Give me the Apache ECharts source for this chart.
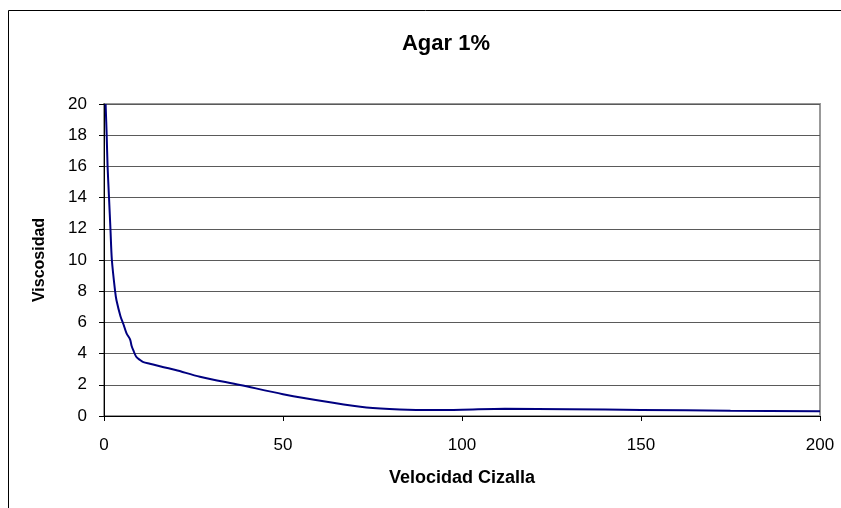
<!DOCTYPE html>
<html>
<head>
<meta charset="utf-8">
<script src="https://cdn.jsdelivr.net/npm/echarts@6/dist/echarts.min.js"></script>
<style>
  html, body { margin: 0; padding: 0; background: #fff; }
  #chart { width: 841px; height: 508px; }
</style>
</head>
<body>
<div id="chart"></div>
<script>
// velocidad de cizalla (eje x) y viscosidad (eje y)
const shearRate = [0.45, 0.75, 1.0, 1.4, 1.8, 2.2, 3.1, 3.5, 4.6, 5.4, 6.3, 7.3, 7.7, 8.2, 9.0, 10, 11, 12.8, 20, 26.8, 38, 50, 64, 73.3, 82.6, 92, 100, 112, 130, 150, 175, 200];
const viscosity = [20, 18, 16, 14, 12, 10, 8, 7.4, 6.4, 5.9, 5.3, 4.9, 4.5, 4.2, 3.8, 3.6, 3.45, 3.35, 2.95, 2.52, 1.99, 1.4, 0.85, 0.55, 0.42, 0.38, 0.4, 0.46, 0.43, 0.39, 0.34, 0.3];
const xTicks = [0, 50, 100, 150, 200];
const yTicks = [0, 2, 4, 6, 8, 10, 12, 14, 16, 18, 20];

const fontFamily = '"Liberation Sans", Arial, sans-serif';
const gridColor = '#5a5a5a';

const chart = echarts.init(document.getElementById('chart'), null, {renderer: 'canvas'});

chart.setOption({
    animation: false,
    backgroundColor: '#fff',
    title: {
        text: 'Agar 1%',
        left: 441,
        top: 28,
        textAlign: 'center',
        textStyle: {fontFamily: fontFamily, fontSize: 22, fontWeight: 'bold', color: '#000'}
    },
    graphic: [
        {
            type: 'rect',
            shape: {x: 8.5, y: 10.5, width: 900, height: 600},
            style: {fill: 'none', stroke: '#000', lineWidth: 1},
            silent: true
        }
    ],
    grid: {
        left: 104,
        right: 21,
        top: 104,
        bottom: 92,
        show: true,
        borderColor: '#999',
        borderWidth: 2,
        backgroundColor: 'transparent'
    },
    xAxis: {
        type: 'value',
        min: xTicks[0],
        max: xTicks[xTicks.length - 1],
        interval: 50,
        name: 'Velocidad Cizalla',
        nameLocation: 'middle',
        nameGap: 53,
        nameTextStyle: {fontFamily: fontFamily, fontSize: 18, fontWeight: 'bold', color: '#000'},
        axisLine: {show: true, onZero: false, lineStyle: {color: '#000', width: 1}},
        axisTick: {show: true, length: 5, lineStyle: {color: '#000'}},
        axisLabel: {fontFamily: fontFamily, fontSize: 17, color: '#000', margin: 21},
        splitLine: {show: false}
    },
    yAxis: {
        type: 'value',
        min: yTicks[0],
        max: yTicks[yTicks.length - 1],
        interval: 2,
        name: 'Viscosidad',
        nameLocation: 'middle',
        nameGap: 56,
        nameTextStyle: {fontFamily: fontFamily, fontSize: 16, fontWeight: 'bold', color: '#000'},
        axisLine: {show: true, onZero: false, lineStyle: {color: '#000', width: 1}},
        axisTick: {show: true, length: 5, lineStyle: {color: '#000'}},
        axisLabel: {fontFamily: fontFamily, fontSize: 17, color: '#000', margin: 17},
        splitLine: {show: true, lineStyle: {color: gridColor, width: 1}}
    },
    series: [
        {
            type: 'line',
            data: shearRate.map((x, i) => [x, viscosity[i]]),
            showSymbol: false,
            smooth: 0.3,
            clip: true,
            lineStyle: {color: '#000080', width: 2}
        }
    ]
});
</script>
</body>
</html>
